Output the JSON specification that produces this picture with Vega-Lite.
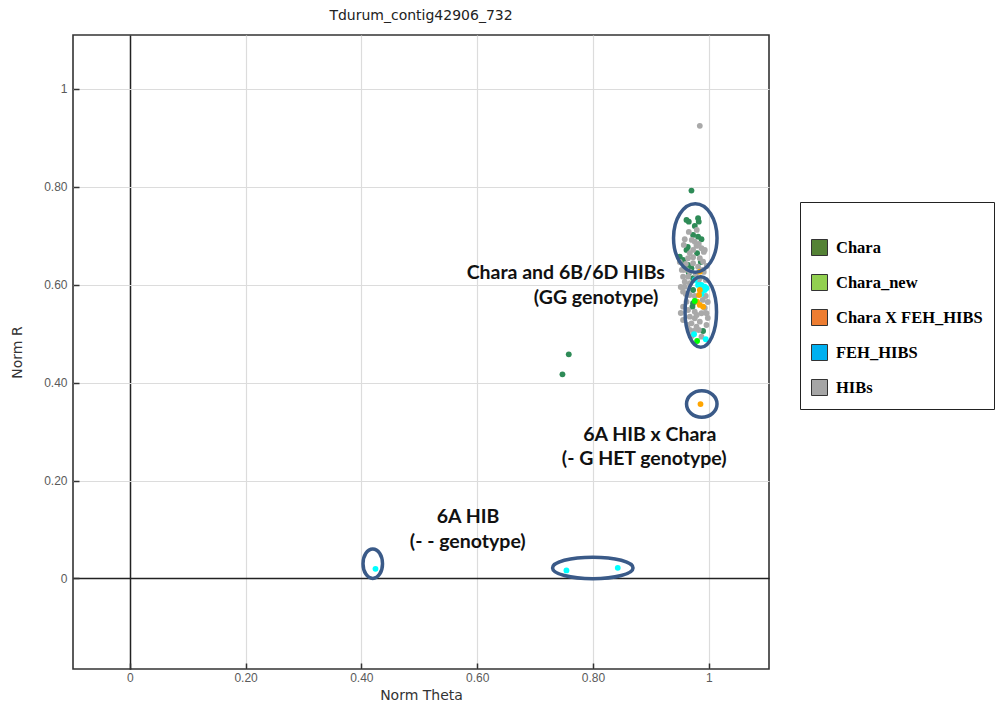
{
  "$schema": "https://vega.github.io/schema/vega-lite/v6.json",
  "autosize": "none",
  "width": 696,
  "height": 634,
  "padding": {"left": 73, "top": 35, "right": 226, "bottom": 37},
  "background": "white",
  "title": {"text": "Tdurum_contig42906_732", "font": "DejaVu Sans", "fontSize": 14, "fontWeight": "normal", "color": "#222", "offset": 12},
  "config": {
    "view": {"stroke": "#333", "strokeWidth": 1.6},
    "axis": {
      "domain": false,
      "grid": true,
      "gridColor": {"condition": {"test": "datum.value === 0", "value": "#222"}, "value": "#dcdcdc"},
      "gridWidth": {"condition": {"test": "datum.value === 0", "value": 1.5}, "value": 1.2},
      "tickColor": "#333",
      "tickWidth": 1.5,
      "tickSize": -6,
      "labelFont": "Liberation Sans",
      "labelFontSize": 12,
      "labelColor": "#5a5a5a",
      "titleFont": "DejaVu Sans",
      "titleFontSize": 14,
      "titleFontWeight": "normal",
      "titleColor": "#333"
    }
  },
  "datasets": {
    "points": [
      {"theta": 0.9701, "r": 0.7922, "group": "Chara"},
      {"theta": 0.9615, "r": 0.7323, "group": "Chara"},
      {"theta": 0.9655, "r": 0.7288, "group": "Chara"},
      {"theta": 0.9815, "r": 0.7357, "group": "Chara"},
      {"theta": 0.9827, "r": 0.7288, "group": "Chara"},
      {"theta": 0.9729, "r": 0.7016, "group": "Chara"},
      {"theta": 0.9815, "r": 0.6981, "group": "Chara"},
      {"theta": 0.9874, "r": 0.6928, "group": "Chara"},
      {"theta": 0.9615, "r": 0.6710, "group": "Chara"},
      {"theta": 0.9798, "r": 0.6642, "group": "Chara"},
      {"theta": 0.9499, "r": 0.6573, "group": "Chara"},
      {"theta": 0.9556, "r": 0.6505, "group": "Chara"},
      {"theta": 0.9642, "r": 0.6403, "group": "Chara"},
      {"theta": 0.9701, "r": 0.6336, "group": "Chara"},
      {"theta": 0.9729, "r": 0.6131, "group": "Chara"},
      {"theta": 0.9729, "r": 0.5892, "group": "Chara"},
      {"theta": 0.9729, "r": 0.5620, "group": "Chara"},
      {"theta": 0.9718, "r": 0.5551, "group": "Chara"},
      {"theta": 0.9902, "r": 0.5054, "group": "Chara"},
      {"theta": 0.9568, "r": 0.6444, "group": "Chara"},
      {"theta": 0.9655, "r": 0.6240, "group": "Chara"},
      {"theta": 0.9637, "r": 0.6771, "group": "Chara"},
      {"theta": 0.9862, "r": 0.6464, "group": "Chara"},
      {"theta": 0.9758, "r": 0.7200, "group": "Chara"},
      {"theta": 0.7582, "r": 0.4578, "group": "Chara"},
      {"theta": 0.7473, "r": 0.4169, "group": "Chara"},
      {"theta": 0.9845, "r": 0.9244, "group": "HIBs"},
      {"theta": 0.9585, "r": 0.6928, "group": "HIBs"},
      {"theta": 0.9758, "r": 0.6879, "group": "HIBs"},
      {"theta": 0.9788, "r": 0.6791, "group": "HIBs"},
      {"theta": 0.9729, "r": 0.6710, "group": "HIBs"},
      {"theta": 0.9874, "r": 0.6744, "group": "HIBs"},
      {"theta": 0.9672, "r": 0.6642, "group": "HIBs"},
      {"theta": 0.9642, "r": 0.6540, "group": "HIBs"},
      {"theta": 0.9729, "r": 0.6560, "group": "HIBs"},
      {"theta": 0.9845, "r": 0.6540, "group": "HIBs"},
      {"theta": 0.9902, "r": 0.6470, "group": "HIBs"},
      {"theta": 0.9729, "r": 0.6438, "group": "HIBs"},
      {"theta": 0.9815, "r": 0.6368, "group": "HIBs"},
      {"theta": 0.9585, "r": 0.6301, "group": "HIBs"},
      {"theta": 0.9672, "r": 0.6266, "group": "HIBs"},
      {"theta": 0.9556, "r": 0.6164, "group": "HIBs"},
      {"theta": 0.9642, "r": 0.6164, "group": "HIBs"},
      {"theta": 0.9845, "r": 0.6131, "group": "HIBs"},
      {"theta": 0.9585, "r": 0.6062, "group": "HIBs"},
      {"theta": 0.9672, "r": 0.6029, "group": "HIBs"},
      {"theta": 0.9585, "r": 0.5960, "group": "HIBs"},
      {"theta": 0.9556, "r": 0.5857, "group": "HIBs"},
      {"theta": 0.9672, "r": 0.5790, "group": "HIBs"},
      {"theta": 0.9615, "r": 0.5653, "group": "HIBs"},
      {"theta": 0.9556, "r": 0.5551, "group": "HIBs"},
      {"theta": 0.9642, "r": 0.5483, "group": "HIBs"},
      {"theta": 0.9758, "r": 0.5449, "group": "HIBs"},
      {"theta": 0.9874, "r": 0.5416, "group": "HIBs"},
      {"theta": 0.9960, "r": 0.5416, "group": "HIBs"},
      {"theta": 0.9672, "r": 0.5346, "group": "HIBs"},
      {"theta": 0.9556, "r": 0.5279, "group": "HIBs"},
      {"theta": 0.9758, "r": 0.5314, "group": "HIBs"},
      {"theta": 0.9845, "r": 0.5244, "group": "HIBs"},
      {"theta": 0.9960, "r": 0.5177, "group": "HIBs"},
      {"theta": 0.9701, "r": 0.5211, "group": "HIBs"},
      {"theta": 0.9788, "r": 0.5142, "group": "HIBs"},
      {"theta": 0.9874, "r": 0.4938, "group": "HIBs"},
      {"theta": 0.9672, "r": 0.5075, "group": "HIBs"},
      {"theta": 0.9914, "r": 0.6669, "group": "HIBs"},
      {"theta": 0.9965, "r": 0.6383, "group": "HIBs"},
      {"theta": 0.9914, "r": 0.6260, "group": "HIBs"},
      {"theta": 0.9775, "r": 0.6219, "group": "HIBs"},
      {"theta": 0.9948, "r": 0.6097, "group": "HIBs"},
      {"theta": 0.9827, "r": 0.6035, "group": "HIBs"},
      {"theta": 0.9896, "r": 0.5688, "group": "HIBs"},
      {"theta": 0.9983, "r": 0.5647, "group": "HIBs"},
      {"theta": 0.9931, "r": 0.5524, "group": "HIBs"},
      {"theta": 0.9793, "r": 0.5381, "group": "HIBs"},
      {"theta": 0.9637, "r": 0.5177, "group": "HIBs"},
      {"theta": 0.9741, "r": 0.5054, "group": "HIBs"},
      {"theta": 0.9603, "r": 0.5810, "group": "HIBs"},
      {"theta": 0.9896, "r": 0.6301, "group": "HIBs"},
      {"theta": 0.9827, "r": 0.6832, "group": "HIBs"},
      {"theta": 0.9706, "r": 0.6914, "group": "HIBs"},
      {"theta": 0.9499, "r": 0.6464, "group": "HIBs"},
      {"theta": 0.9534, "r": 0.6301, "group": "HIBs"},
      {"theta": 0.9603, "r": 0.6424, "group": "HIBs"},
      {"theta": 0.9983, "r": 0.5320, "group": "HIBs"},
      {"theta": 0.9827, "r": 0.5075, "group": "HIBs"},
      {"theta": 0.9706, "r": 0.4952, "group": "HIBs"},
      {"theta": 0.9931, "r": 0.6710, "group": "HIBs"},
      {"theta": 0.9655, "r": 0.7077, "group": "HIBs"},
      {"theta": 0.9793, "r": 0.7119, "group": "HIBs"},
      {"theta": 0.9568, "r": 0.6812, "group": "HIBs"},
      {"theta": 0.9516, "r": 0.5953, "group": "HIBs"},
      {"theta": 0.9516, "r": 0.5422, "group": "HIBs"},
      {"theta": 0.9758, "r": 0.5769, "group": "HIBs"},
      {"theta": 0.9948, "r": 0.5769, "group": "HIBs"},
      {"theta": 0.9758, "r": 0.6097, "group": "FEH_HIBS"},
      {"theta": 0.9815, "r": 0.5995, "group": "FEH_HIBS"},
      {"theta": 0.9874, "r": 0.5995, "group": "FEH_HIBS"},
      {"theta": 0.9931, "r": 0.5960, "group": "FEH_HIBS"},
      {"theta": 0.9960, "r": 0.5927, "group": "FEH_HIBS"},
      {"theta": 0.9902, "r": 0.5892, "group": "FEH_HIBS"},
      {"theta": 0.9931, "r": 0.5892, "group": "FEH_HIBS"},
      {"theta": 0.9874, "r": 0.5810, "group": "FEH_HIBS"},
      {"theta": 0.9746, "r": 0.4987, "group": "FEH_HIBS"},
      {"theta": 0.9948, "r": 0.4885, "group": "FEH_HIBS"},
      {"theta": 0.4244, "r": 0.0196, "group": "FEH_HIBS"},
      {"theta": 0.7542, "r": 0.0163, "group": "FEH_HIBS"},
      {"theta": 0.8428, "r": 0.0217, "group": "FEH_HIBS"},
      {"theta": 0.9845, "r": 0.6266, "group": "Chara X FEH_HIBS"},
      {"theta": 0.9845, "r": 0.5892, "group": "Chara X FEH_HIBS"},
      {"theta": 0.9832, "r": 0.5790, "group": "Chara X FEH_HIBS"},
      {"theta": 0.9798, "r": 0.5653, "group": "Chara X FEH_HIBS"},
      {"theta": 0.9845, "r": 0.5586, "group": "Chara X FEH_HIBS"},
      {"theta": 0.9902, "r": 0.5551, "group": "Chara X FEH_HIBS"},
      {"theta": 0.9857, "r": 0.3562, "group": "Chara X FEH_HIBS"},
      {"theta": 0.9758, "r": 0.5667, "group": "Chara_new"},
      {"theta": 0.9798, "r": 0.4850, "group": "Chara_new"}
    ],
    "notes": [
      {"theta": 0.7530, "r": 0.6233, "note": "Chara and 6B/6D HIBs"},
      {"theta": 0.8054, "r": 0.5722, "note": "(GG genotype)"},
      {"theta": 0.8981, "r": 0.2929, "note": "6A HIB x Chara"},
      {"theta": 0.8886, "r": 0.2439, "note": "(- G HET genotype)"},
      {"theta": 0.5843, "r": 0.1259, "note": "6A HIB"},
      {"theta": 0.5838, "r": 0.0748, "note": "(- - genotype)"}
    ],
    "rings": [
      {"theta": 0.9767, "r": 0.6955, "ring": "upper"},
      {"theta": 0.9862, "r": 0.5442, "ring": "lower"},
      {"theta": 0.9879, "r": 0.3562, "ring": "het"},
      {"theta": 0.4197, "r": 0.0302, "ring": "null1"},
      {"theta": 0.7997, "r": 0.0215, "ring": "null2"}
    ]
  },
  "encoding": {
    "x": {"field": "theta", "type": "quantitative", "title": "Norm Theta",
      "scale": {"domain": [-0.098, 1.104], "nice": false, "zero": false},
      "axis": {"values": [0, 0.2, 0.4, 0.6, 0.8, 1], "labelExpr": "datum.value === 0 ? '0' : datum.value === 1 ? '1' : format(datum.value, '.2f')", "labelPadding": 9, "titlePadding": 5}},
    "y": {"field": "r", "type": "quantitative", "title": "Norm R",
      "scale": {"domain": [-0.185, 1.11], "nice": false, "zero": false},
      "axis": {"values": [0, 0.2, 0.4, 0.6, 0.8, 1], "labelExpr": "datum.value === 0 ? '0' : datum.value === 1 ? '1' : format(datum.value, '.2f')", "labelPadding": 12, "titlePadding": 19}}
  },
  "layer": [
    {
      "data": {"name": "points"},
      "mark": {"type": "point", "filled": true, "size": 34, "opacity": 1, "shape": "circle"},
      "encoding": {
        "color": {"field": "group", "type": "nominal", "legend": null,
          "scale": {"domain": ["HIBs", "FEH_HIBS", "Chara X FEH_HIBS", "Chara_new", "Chara"], "range": ["#A9A9A9", "#00FFFF", "#FFA500", "#00FF00", "#2E8B57"]}}
      }
    },
    {
      "data": {"name": "points"},
      "mark": {"type": "square", "filled": true, "size": 0},
      "encoding": {
        "fill": {"field": "group", "type": "nominal",
          "scale": {"domain": ["Chara", "Chara_new", "Chara X FEH_HIBS", "FEH_HIBS", "HIBs"], "range": ["#548235", "#92D050", "#ED7D31", "#00B0F0", "#A5A5A5"]},
          "legend": {
            "title": " ",
            "titleFontSize": 12,
            "titlePadding": 14,
            "orient": "none",
            "legendX": 727,
            "legendY": 167,
            "padding": 11,
            "strokeColor": "#222",
            "fillColor": "white",
            "symbolType": "square",
            "symbolSize": 256,
            "symbolOpacity": 1,
            "symbolStrokeColor": "#333",
            "symbolStrokeWidth": 1,
            "labelFont": "Liberation Serif",
            "labelFontWeight": "bold",
            "labelColor": "#000",
            "labelFontSize": 16.5,
            "labelOffset": 8,
            "labelLimit": 400,
            "rowPadding": 14
          }
        }
      }
    },
    {
      "data": {"name": "notes"},
      "mark": {"type": "text", "font": "Lato", "fontWeight": "bold", "fontSize": 19.5, "color": "#111", "align": "center", "baseline": "middle"},
      "encoding": {"text": {"field": "note", "type": "nominal"}}
    },
    {
      "data": {"name": "rings"},
      "mark": {"type": "point", "filled": false, "size": 4, "stroke": "#3A5A88", "strokeWidth": 3.5, "opacity": 1},
      "encoding": {
        "shape": {"field": "ring", "type": "nominal", "legend": null,
          "scale": {"domain": ["upper", "lower", "het", "null1", "null2"],
            "range": [
              "M -21.75 0 A 21.75 34.25 0 1 0 21.75 0 A 21.75 34.25 0 1 0 -21.75 0 Z",
              "M -15.75 0 A 15.75 35.25 0 1 0 15.75 0 A 15.75 35.25 0 1 0 -15.75 0 Z",
              "M -15.25 0 A 15.25 13.25 0 1 0 15.25 0 A 15.25 13.25 0 1 0 -15.25 0 Z",
              "M -9.75 0 A 9.75 14.75 0 1 0 9.75 0 A 9.75 14.75 0 1 0 -9.75 0 Z",
              "M -40.25 0 A 40.25 10.75 0 1 0 40.25 0 A 40.25 10.75 0 1 0 -40.25 0 Z"
            ]}}
      }
    }
  ]
}
